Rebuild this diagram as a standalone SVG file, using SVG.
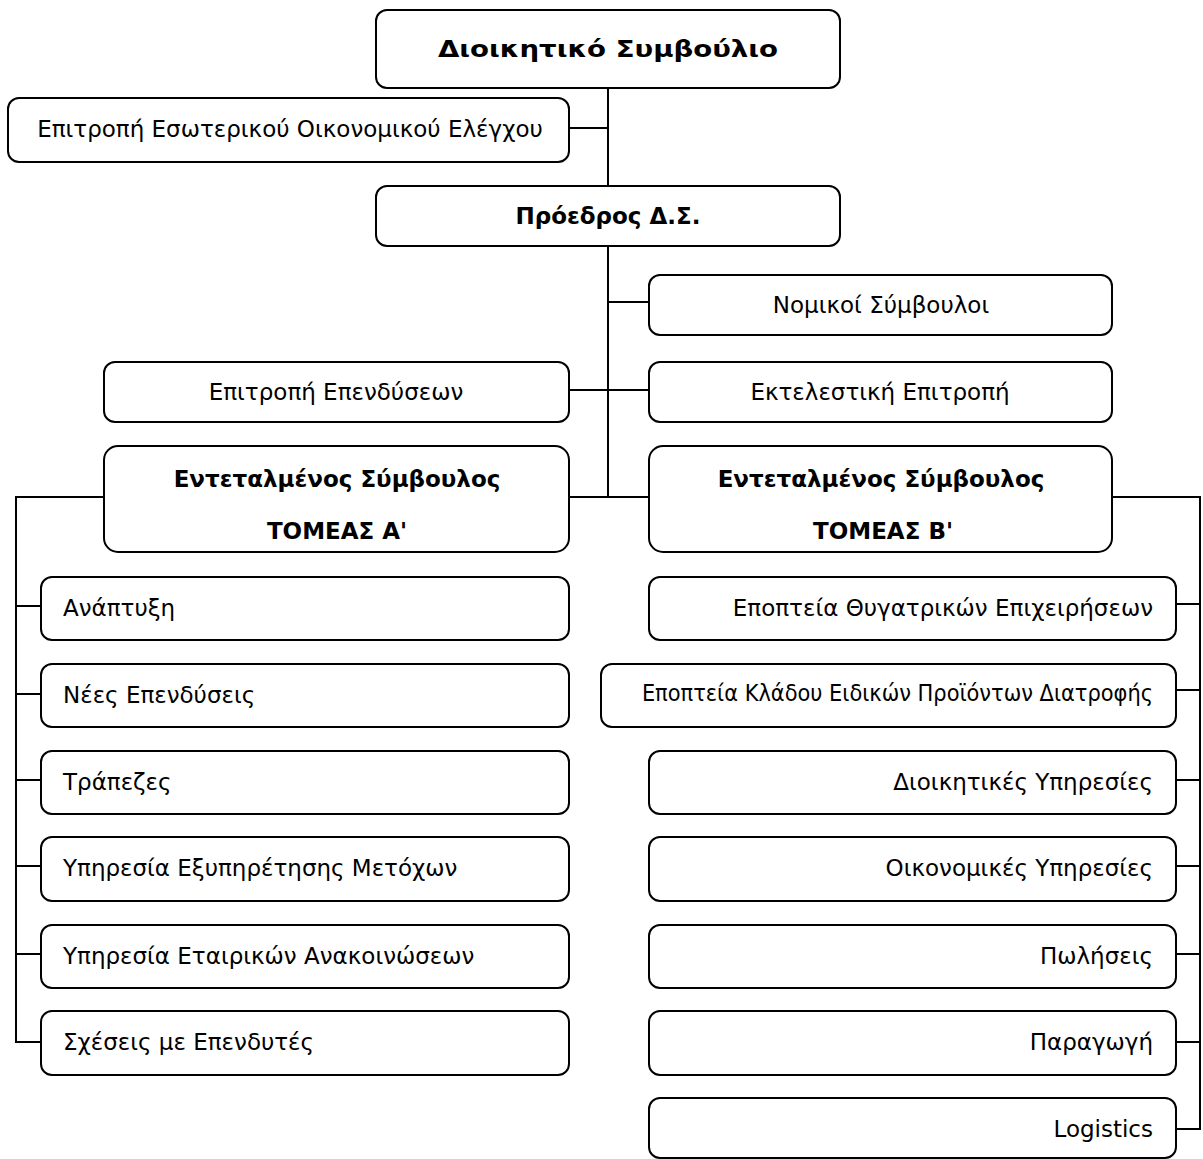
<svg xmlns="http://www.w3.org/2000/svg" width="1203" height="1159" viewBox="0 0 1203 1159">
<style>
.box{fill:#fff;stroke:#000;stroke-width:2}
.ln{fill:none;stroke:#000;stroke-width:2}
.t{font-family:"DejaVu Sans",sans-serif;font-size:23px;fill:#000}
.n{font-family:"DejaVu Sans Condensed","DejaVu Sans",sans-serif;font-size:23.3px}
.b{font-weight:bold}
.c{text-anchor:middle}
.e{text-anchor:end}
</style>
<rect width="1203" height="1159" fill="#fff"/>
<g id="connectors">
<path class="ln" d="M608 88V186M608 246V497M569 128H608M608 302H649M569 390H649M569 497H649"/>
<path class="ln" d="M104 497H16V1042H41M16 606H41M16 694H41M16 780H41M16 866H41M16 954H41"/>
<path class="ln" d="M1112 497H1200V1129H1176M1176 604H1200M1176 690H1200M1176 780H1200M1176 866H1200M1176 954H1200M1176 1042H1200"/>
</g>
<g id="n-board"><rect class="box" x="376" y="10" width="464" height="78" rx="11"/><text class="t b c" x="608" y="57" font-size="31" textLength="340" lengthAdjust="spacingAndGlyphs">Διοικητικό Συμβούλιο</text></g>
<g id="n-audit"><rect class="box" x="8" y="98" width="561" height="64" rx="11"/><text class="t c" x="290" y="137">Επιτροπή Εσωτερικού Οικονομικού Ελέγχου</text></g>
<g id="n-chair"><rect class="box" x="376" y="186" width="464" height="60" rx="11"/><text class="t b c" x="608" y="224">Πρόεδρος Δ.Σ.</text></g>
<g id="n-legal"><rect class="box" x="649" y="275" width="463" height="60" rx="11"/><text class="t c" x="881" y="313">Νομικοί Σύμβουλοι</text></g>
<g id="n-invest"><rect class="box" x="104" y="362" width="465" height="60" rx="11"/><text class="t c" x="336" y="400">Επιτροπή Επενδύσεων</text></g>
<g id="n-exec"><rect class="box" x="649" y="362" width="463" height="60" rx="11"/><text class="t c" x="880" y="400">Εκτελεστική Επιτροπή</text></g>
<g id="n-secA"><rect class="box" x="104" y="446" width="465" height="106" rx="14"/><text class="t b c" x="337" y="487" font-size="26">Εντεταλμένος Σύμβουλος</text><text class="t b c" x="337" y="539" font-size="26">ΤΟΜΕΑΣ Α'</text></g>
<g id="n-secB"><rect class="box" x="649" y="446" width="463" height="106" rx="14"/><text class="t b c" x="881" y="487" font-size="26">Εντεταλμένος Σύμβουλος</text><text class="t b c" x="883" y="539" font-size="26">ΤΟΜΕΑΣ Β'</text></g>
<g id="n-a1"><rect class="box" x="41" y="577" width="528" height="63" rx="11"/><text class="t" x="63" y="616">Ανάπτυξη</text></g>
<g id="n-a2"><rect class="box" x="41" y="664" width="528" height="63" rx="11"/><text class="t" x="63" y="703">Νέες Επενδύσεις</text></g>
<g id="n-a3"><rect class="box" x="41" y="751" width="528" height="63" rx="11"/><text class="t" x="63" y="790">Τράπεζες</text></g>
<g id="n-a4"><rect class="box" x="41" y="837" width="528" height="64" rx="11"/><text class="t" x="63" y="876">Υπηρεσία Εξυπηρέτησης Μετόχων</text></g>
<g id="n-a5"><rect class="box" x="41" y="925" width="528" height="63" rx="11"/><text class="t" x="63" y="964">Υπηρεσία Εταιρικών Ανακοινώσεων</text></g>
<g id="n-a6"><rect class="box" x="41" y="1011" width="528" height="64" rx="11"/><text class="t" x="63" y="1050">Σχέσεις με Επενδυτές</text></g>
<g id="n-b1"><rect class="box" x="649" y="577" width="527" height="63" rx="11"/><text class="t e" x="1153" y="616">Εποπτεία Θυγατρικών Επιχειρήσεων</text></g>
<g id="n-b2"><rect class="box" x="601" y="664" width="575" height="63" rx="11"/><text class="t n e" x="1153" y="701">Εποπτεία Κλάδου Ειδικών Προϊόντων Διατροφής</text></g>
<g id="n-b3"><rect class="box" x="649" y="751" width="527" height="63" rx="11"/><text class="t e" x="1153" y="790">Διοικητικές Υπηρεσίες</text></g>
<g id="n-b4"><rect class="box" x="649" y="837" width="527" height="64" rx="11"/><text class="t e" x="1153" y="876">Οικονομικές Υπηρεσίες</text></g>
<g id="n-b5"><rect class="box" x="649" y="925" width="527" height="63" rx="11"/><text class="t e" x="1153" y="964">Πωλήσεις</text></g>
<g id="n-b6"><rect class="box" x="649" y="1011" width="527" height="64" rx="11"/><text class="t e" x="1153" y="1050">Παραγωγή</text></g>
<g id="n-b7"><rect class="box" x="649" y="1098" width="527" height="60" rx="11"/><text class="t e" x="1153" y="1137">Logistics</text></g>
</svg>
